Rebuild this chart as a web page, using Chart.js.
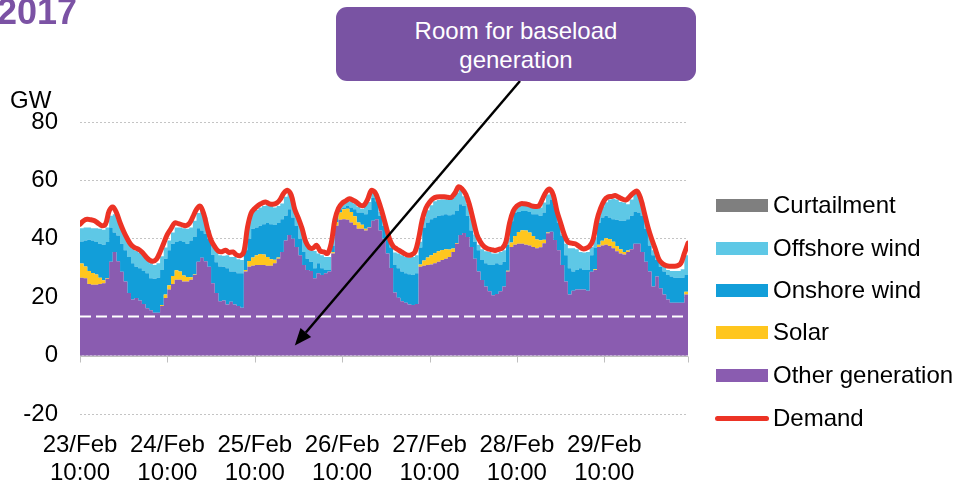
<!DOCTYPE html>
<html>
<head>
<meta charset="utf-8">
<script src="https://cdn.jsdelivr.net/npm/chart.js@4"></script>
<style>
  html, body { margin: 0; padding: 0; background: #ffffff; }
  #wrap { position: relative; width: 955px; height: 485px; overflow: hidden; font-family: 'Liberation Sans', Arial, sans-serif; }
  #c { position: absolute; left: 0; top: 0; }
  .title { position: absolute; left: -3px; top: -6px; font-size: 36px; line-height: 36px; font-weight: bold; color: #7b52a4; }
  .unit { position: absolute; left: 10px; top: 88px; font-size: 24px; line-height: 24px; color: #000; }
  .callout { position: absolute; left: 336px; top: 7px; width: 360px; height: 74px; border-radius: 11px; background: #7953a3; color: #fff; font-size: 24px; line-height: 29px; text-align: center; box-sizing: border-box; padding-top: 9px; }
  .leg { position: absolute; left: 716px; height: 24px; }
  .leg .sw { position: absolute; left: 0; top: 6px; width: 52px; height: 13px; }
  .leg .ln { position: absolute; left: -1px; top: 10px; width: 54px; height: 5px; border-radius: 3px; }
  .leg .tx { position: absolute; left: 57px; top: 0; font-size: 24px; line-height: 24px; white-space: nowrap; color: #000; }
</style>
</head>
<body>
<div id="wrap">
  <canvas id="c" width="955" height="485"></canvas>
  <div class="title">2017</div>
  <div class="unit">GW</div>
  <div class="callout">Room for baseload<br>generation</div>
  <div id="legend"></div>
</div>
<script>
// ---- Data (GW, hourly from 23/Feb 10:00) ----
const dayLabels = ['23/Feb', '24/Feb', '25/Feb', '26/Feb', '27/Feb', '28/Feb', '29/Feb'];
const timeLabel = '10:00';
const baseloadLevel = 13.7;

const otherGeneration = [
  26.7,26.5,24.5,24.3,24.3,24.5,24.8,26.3,32.1,35.5,32.3,28.7,25.4,21.4,19.2,19.7,18.9,17.7,16.2,15.5,14.7,14.7,17.0,19.7,
  22.6,24.5,26.0,26.0,25.4,25.4,26.0,27.6,32.1,33.5,32.3,30.4,24.8,21.4,18.6,18.9,17.5,18.4,17.5,17.0,16.4,28.8,30.4,30.8,
  31.0,31.0,31.0,30.8,30.8,31.6,33.2,35.5,39.4,41.3,40.0,37.2,34.4,31.0,29.3,29.0,26.5,28.2,27.6,28.2,28.8,35.0,44.5,46.5,
  46.7,46.5,45.6,44.7,43.4,43.4,42.8,43.9,46.2,46.7,42.8,40.0,35.0,30.0,21.6,19.8,18.6,18.1,17.5,17.3,17.7,30.4,30.8,31.0,
  31.2,31.6,32.1,32.7,33.2,33.8,35.5,38.3,41.3,42.0,40.6,37.2,33.2,28.8,25.9,23.7,22.0,20.7,21.1,22.0,23.7,28.8,37.2,38.0,
  38.3,38.3,38.0,37.7,37.2,36.8,37.1,38.5,41.9,42.4,39.6,36.1,31.0,25.4,20.9,22.2,22.6,22.6,22.6,22.2,28.7,29.3,37.2,37.7,
  38.0,37.5,36.8,35.7,35.0,34.6,35.5,36.4,38.3,38.3,35.5,32.1,28.8,23.7,27.1,23.1,20.9,19.2,18.1,18.1,18.1,18.1,20.9,23.7
];
const solar = [
  4.8,4.0,4.5,4.0,3.5,2.2,1.0,0.3,0,0,0,0,0,0,0,0,0,0,0,0,0,0,0.3,1.2,
  1.5,2.8,3.2,2.8,2.0,1.5,0.8,0.2,0,0,0,0,0,0,0,0,0,0,0,0,0,0.5,2.0,2.8,
  3.4,3.8,3.6,3.0,2.2,1.2,0.4,0,0,0,0,0,0,0,0,0,0,0,0,0,0,0.4,1.2,2.5,
  3.4,3.8,3.6,3.0,2.2,1.4,0.6,0.1,0,0,0,0,0,0,0,0,0,0,0,0,0,0.8,1.8,2.6,
  3.2,3.5,3.6,3.5,3.2,2.5,1.2,0.3,0,0,0,0,0,0,0,0,0,0,0,0,0,0.3,1.5,3.0,
  4.0,4.6,4.8,4.5,3.8,3.0,2.4,1.2,0.3,0,0,0,0,0,0,0,0,0,0,0,0,0.3,0.8,1.6,
  2.2,2.4,2.2,1.8,1.4,0.9,0.5,0.1,0,0,0,0,0,0,0,0,0,0,0,0,0,0,1.0,2.0
];
const onshoreWind = [
  7.6,8.9,10.7,11.1,11.1,11.6,12.2,12.3,11.8,6.7,8.8,9.6,10.7,12.4,12.4,10.7,11.0,11.3,12.0,11.0,11.6,12.0,12.0,12.3,
  12.0,11.0,9.7,10.6,11.5,11.4,12.6,12.8,11.5,9.3,9.4,9.6,9.7,10.6,11.9,11.5,12.4,10.4,11.3,11.2,11.8,6.8,7.6,9.8,
  9.5,9.7,10.4,11.6,12.0,11.9,11.8,11.2,8.5,8.8,7.3,7.3,5.6,4.5,3.9,3.1,3.4,3.4,2.3,1.1,0.5,2.3,2.2,1.1,
  0.6,0.9,1.5,2.4,3.4,4.2,5.0,5.9,7.8,6.2,5.1,4.5,6.0,7.0,9.4,10.1,10.2,10.1,10.4,10.3,10.5,5.8,11.3,12.0,
  12.3,12.2,12.2,11.9,12.0,11.8,11.7,10.9,10.5,9.2,7.3,5.6,5.7,7.3,6.8,7.9,9.0,10.3,10.5,9.2,8.4,8.9,7.3,8.0,
  6.9,6.6,6.7,7.0,7.4,8.6,8.4,9.3,9.6,11.1,11.6,9.5,10.1,9.0,9.0,6.6,6.7,7.3,6.7,7.1,5.7,7.4,7.5,8.0,
  7.7,7.4,7.7,9.0,9.8,10.7,10.7,11.4,10.9,10.7,12.4,11.3,8.9,10.7,5.6,7.3,7.9,8.4,9.0,8.6,8.6,8.6,5.7,7.5
];
const offshoreWind = [
  4.5,4.5,4.2,4.2,4.7,5.1,5.1,5.0,4.0,6.2,5.6,5.1,4.9,5.0,5.2,5.4,5.3,5.3,4.6,5.1,4.7,4.9,4.7,3.8,
  3.3,3.9,5.0,4.5,4.7,5.1,4.5,5.6,5.2,7.1,5.6,2.8,3.8,4.1,3.9,3.8,4.5,5.0,5.0,4.8,4.5,2.2,5.6,5.8,
  6.0,6.2,6.2,6.1,6.2,6.0,5.8,5.4,6.5,5.4,5.1,3.4,5.5,6.5,4.3,4.0,5.9,3.4,4.5,4.5,4.5,2.9,0.5,1.1,
  1.4,1.7,2.2,2.0,2.0,1.3,3.4,2.7,1.7,1.7,1.3,1.5,2.0,1.5,4.3,5.1,5.6,5.6,5.6,6.2,6.2,2.0,3.1,4.2,
  4.8,5.6,5.4,5.4,5.1,5.2,5.6,6.2,5.1,3.4,4.1,4.2,2.6,1.9,3.7,4.1,4.5,4.0,3.4,4.3,4.0,2.0,2.0,1.0,
  2.0,2.0,2.0,2.0,2.3,1.9,2.8,3.4,3.4,2.8,1.7,1.7,0.6,3.9,6.9,8.0,7.1,5.6,6.0,6.2,2.8,3.5,2.5,3.7,
  4.6,6.2,7.0,7.0,6.4,6.2,5.1,5.6,6.3,6.7,4.5,3.3,3.4,1.7,1.8,1.6,1.7,1.7,1.9,2.3,2.3,2.9,6.8,4.0
];
const curtailment = [
  0,0,0,0,0,0,0,0,0,0,0,0,0,0,0,0,0,0,0,0,0,0,0,0,
  0,0,0,0,0,0,0,0,0,0,0,0,0,0,0,0,0,0,0,0,0,0,0,0,
  0,0,0,0,0,0,0,0,0,0,0,0,0,0,0,0,0,0,0,0,0,0,0,0,
  0,0,0,0,0,0,0,0,0,0,0,0,0,0,0,0,0,0,0,0,0,0,0,0,
  0,0,0,0,0,0,0,0,0,0,0,0,0,0,0,0,0,0,0,0,0,0,0,0,
  0,0,0,0,0,0,0,0,0,0,0,0,0,0,0,0,0,0,0,0,0,0,0,0,
  0,0,0,0,0,0,0,0,0,0,0,0,0,0,0,0,0,0,0,0,0,0,0,0
];
const demand = [
  45.0,46.2,46.7,46.5,46.2,45.3,44.5,45.0,49.5,50.9,49.0,45.5,42.5,40.0,38.0,37.0,36.5,35.5,34.0,32.8,32.3,33.0,35.5,38.5,
  41.5,43.5,45.4,45.2,44.8,44.5,45.2,47.5,50.1,51.2,48.5,43.5,39.5,37.3,35.8,35.6,36.1,35.3,35.5,34.5,34.2,35.5,43.9,48.8,
  50.4,51.5,52.2,52.6,52.0,51.8,52.2,53.5,55.7,56.6,55.0,50.0,47.0,43.5,39.0,37.0,36.8,37.8,35.8,35.5,35.0,38.5,46.5,50.5,
  52.2,53.0,53.7,53.2,52.5,51.5,51.5,53.5,56.5,56.0,53.0,49.0,44.5,40.0,37.5,36.5,35.8,35.0,34.4,34.5,35.5,40.0,46.5,50.5,
  52.5,53.8,54.3,54.4,54.4,54.2,54.2,55.7,57.8,57.0,55.2,51.5,46.5,41.5,38.9,37.3,36.6,36.3,36.0,36.4,36.8,39.0,45.5,49.5,
  51.2,52.0,52.0,51.8,51.3,51.1,51.2,53.5,56.0,57.0,55.0,49.5,45.5,41.5,38.9,38.5,38.3,37.5,36.6,36.7,37.5,40.0,46.5,50.5,
  53.2,54.3,54.5,54.8,54.2,53.6,53.3,54.5,55.7,56.3,53.8,49.0,44.0,40.0,36.6,33.0,31.5,30.8,30.6,30.6,30.7,31.5,35.0,38.5
];
const hours = demand.map((_, i) => i);

const colors = {
  curtailment: '#7f7f7f',
  offshore: '#5ec8e6',
  onshore: '#129ed9',
  solar: '#ffc61e',
  other: '#8a5cb0',
  demand: '#ec3325'
};

// ---- HTML legend ----
const legendItems = [
  { label: 'Curtailment', color: colors.curtailment, y: 205 },
  { label: 'Offshore wind', color: colors.offshore, y: 248 },
  { label: 'Onshore wind', color: colors.onshore, y: 290 },
  { label: 'Solar', color: colors.solar, y: 332 },
  { label: 'Other generation', color: colors.other, y: 375 },
  { label: 'Demand', color: colors.demand, y: 418, line: true }
];
const legEl = document.getElementById('legend');
legendItems.forEach(it => {
  const row = document.createElement('div');
  row.className = 'leg';
  row.style.top = (it.y - 12) + 'px';
  const sw = document.createElement('div');
  sw.className = it.line ? 'ln' : 'sw';
  sw.style.background = it.color;
  const tx = document.createElement('div');
  tx.className = 'tx';
  tx.textContent = it.label;
  row.appendChild(sw); row.appendChild(tx);
  legEl.appendChild(row);
});

// ---- Chart ----
Chart.defaults.font.family = "'Liberation Sans', Arial, sans-serif";
Chart.defaults.color = '#000';

const area = (label, data, color, fill) => ({
  label, data, backgroundColor: color, borderColor: 'rgba(0,0,0,0)', borderWidth: 0,
  pointRadius: 0, fill, stepped: true, tension: 0
});

const overlay = {
  id: 'overlay',
  afterDatasetsDraw(chart) {
    const { ctx, chartArea: a, scales: { x, y } } = chart;
    ctx.save();
    // baseload dashed line
    const yb = Math.round(y.getPixelForValue(baseloadLevel)) + 0.5;
    ctx.strokeStyle = '#ffffff';
    ctx.lineWidth = 2;
    ctx.setLineDash([11, 5]);
    ctx.beginPath(); ctx.moveTo(a.left, yb); ctx.lineTo(a.right, yb); ctx.stroke();
    ctx.setLineDash([]);
    // zero axis line + ticks
    const y0 = Math.round(y.getPixelForValue(0)) + 0.5;
    ctx.strokeStyle = '#bfbfbf';
    ctx.lineWidth = 1;
    ctx.beginPath(); ctx.moveTo(a.left, y0); ctx.lineTo(a.right, y0); ctx.stroke();
    const tickXs = dayLabels.map((_, i) => x.getPixelForValue(i * 24));
    tickXs.push(a.right);
    ctx.beginPath();
    tickXs.forEach(px => { const xx = Math.round(px) + 0.5; ctx.moveTo(xx, y0); ctx.lineTo(xx, y0 + 6); });
    ctx.stroke();
    // callout arrow
    const sx = 520, sy = 81;
    const tx = x.getPixelForValue(59), ty = y.getPixelForValue(3.5);
    const ang = Math.atan2(ty - sy, tx - sx);
    const hl = 17, hw = 7;
    const bx = tx - hl * Math.cos(ang), by = ty - hl * Math.sin(ang);
    ctx.strokeStyle = '#000'; ctx.fillStyle = '#000'; ctx.lineWidth = 2.5;
    ctx.beginPath(); ctx.moveTo(sx, sy); ctx.lineTo(bx, by); ctx.stroke();
    ctx.beginPath();
    ctx.moveTo(tx, ty);
    ctx.lineTo(bx + hw * Math.sin(ang), by - hw * Math.cos(ang));
    ctx.lineTo(bx - hw * Math.sin(ang), by + hw * Math.cos(ang));
    ctx.closePath(); ctx.fill();
    ctx.restore();
  }
};

new Chart(document.getElementById('c'), {
  type: 'line',
  data: {
    labels: hours,
    datasets: [
      area('Other generation', otherGeneration, colors.other, 'origin'),
      area('Solar', solar, colors.solar, '-1'),
      area('Onshore wind', onshoreWind, colors.onshore, '-1'),
      area('Offshore wind', offshoreWind, colors.offshore, '-1'),
      area('Curtailment', curtailment, colors.curtailment, '-1'),
      {
        label: 'Demand', data: demand, borderColor: colors.demand, backgroundColor: colors.demand,
        borderWidth: 5, pointRadius: 0, fill: false, tension: 0.35, stack: 'demand', order: -1,
        borderCapStyle: 'round', borderJoinStyle: 'round'
      }
    ]
  },
  options: {
    responsive: false,
    animation: false,
    events: [],
    layout: { padding: { top: 122, right: 267, left: 0, bottom: 0 } },
    plugins: { legend: { display: false }, tooltip: { enabled: false } },
    scales: {
      x: {
        type: 'linear', min: 0, max: 167,
        grid: { display: false, drawTicks: false },
        border: { display: false },
        ticks: {
          stepSize: 24, autoSkip: false, maxRotation: 0, includeBounds: false,
          padding: 17, font: { size: 24, lineHeight: 1.17 }, color: '#000',
          callback: v => (v % 24 === 0 && dayLabels[v / 24]) ? [dayLabels[v / 24], timeLabel] : null
        },
        afterFit: s => { s.height = 71; }
      },
      y: {
        stacked: true, min: -20, max: 80,
        grid: { color: '#c4c4c4', lineWidth: 1, drawTicks: false },
        border: { display: false, dash: [2, 2] },
        ticks: { stepSize: 20, padding: 22, font: { size: 24 }, color: '#000' },
        afterFit: s => { s.width = 80; }
      }
    }
  },
  plugins: [overlay]
});
</script>
</body>
</html>
